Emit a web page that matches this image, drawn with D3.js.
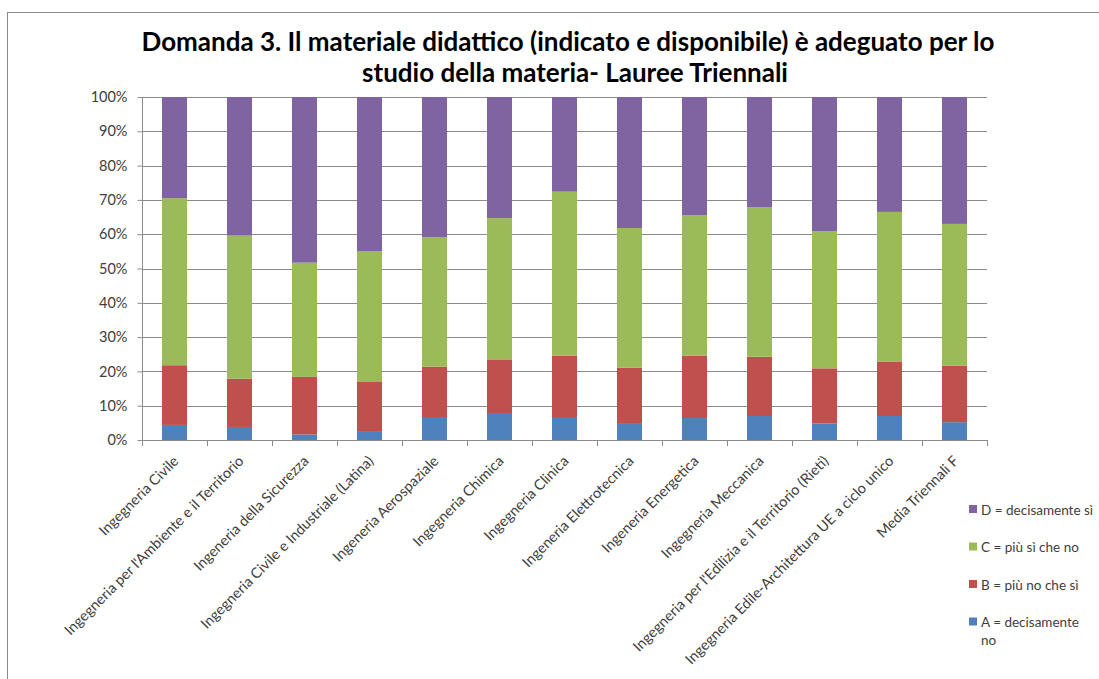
<!DOCTYPE html>
<html>
<head>
  <meta charset="utf-8">
  <script src="https://d3js.org/d3.v7.min.js"></script>
  <style>
    body { margin: 0; background: #fff; }
    svg { font-family: Lato, "Open Sans", sans-serif; }
  </style>
</head>
<body>
<script>
// corsi di laurea
var categories = [
  "Ingegneria Civile",
  "Ingegneria per l'Ambiente e il Territorio",
  "Ingeneria della Sicurezza",
  "Ingegneria Civile e Industriale  (Latina)",
  "Ingeneria Aerospaziale",
  "Ingegneria Chimica",
  "Ingegneria Clinica",
  "Ingeneria Elettrotecnica",
  "Ingeneria Energetica",
  "Ingegneria Meccanica",
  "Ingegneria per l'Edilizia e il Territorio (Rieti)",
  "Ingegneria Edile-Architettura UE a ciclo unico",
  "Media Triennali F"
];
// percentuali per risposta
var valA = [4.4, 3.8, 1.6, 2.6, 6.7, 7.6, 6.7, 4.7, 6.4, 7.0, 4.8, 7.0, 5.2];
var valB = [17.4, 14.1, 16.8, 14.5, 14.7, 15.9, 17.9, 16.4, 18.2, 17.3, 16.1, 15.9, 16.5];
var valC = [48.7, 41.7, 33.3, 38.0, 37.7, 41.2, 47.8, 40.7, 40.9, 43.6, 40.0, 43.6, 41.3];
var valD = [29.5, 40.4, 48.3, 44.9, 40.9, 35.3, 27.6, 38.2, 34.5, 32.1, 39.1, 33.5, 37.0];
var seriesNames = ["A = decisamente no", "B = più no che sì", "C = più sì che no", "D = decisamente sì"];
var seriesColors = ["#4F81BD", "#C0504D", "#9BBB59", "#8064A2"];
var yTicks = [0, 10, 20, 30, 40, 50, 60, 70, 80, 90, 100];

var W = 1099, H = 679;
var svg = d3.select("body").append("svg").attr("width", W).attr("height", H);

// cornice
svg.append("rect").attr("x", 7.5).attr("y", 12.5).attr("width", W + 10).attr("height", H + 10)
  .attr("fill", "none").attr("stroke", "#8a8a8a").attr("stroke-width", 1);

// titolo
var title = svg.append("text").attr("text-anchor", "middle")
  .style("font-weight", "bold").style("font-size", "26px").attr("fill", "#000");
title.append("tspan").attr("x", 568).attr("y", 51)
  .text("Domanda 3. Il materiale didattico (indicato e disponibile) è adeguato per lo");
title.append("tspan").attr("x", 575).attr("y", 82)
  .text("studio della materia- Lauree Triennali");

var x0 = 142, x1 = 987, y0 = 440, y1 = 97;
var x = d3.scaleBand().domain(categories).range([x0, x1]).paddingInner(0.615).paddingOuter(0.3075);
var y = d3.scaleLinear().domain([0, 100]).range([y0, y1]);

// griglia
svg.append("g").selectAll("line").data(yTicks.slice(1)).join("line")
  .attr("x1", x0).attr("x2", x1)
  .attr("y1", function(d) { return Math.round(y(d)) + 0.5; })
  .attr("y2", function(d) { return Math.round(y(d)) + 0.5; })
  .attr("stroke", "#8c8c8c").attr("stroke-width", 1);

// barre
var rows = categories.map(function(c, i) {
  return { cat: c, a: valA[i], b: valB[i], c: valC[i], d: valD[i] };
});
var stack = d3.stack().keys(["a", "b", "c", "d"]);
var layers = stack(rows);
svg.append("g").selectAll("g").data(layers).join("g")
  .attr("fill", function(d, i) { return seriesColors[i]; })
  .selectAll("rect").data(function(d) { return d; }).join("rect")
  .attr("x", function(d) { return x(d.data.cat); })
  .attr("width", x.bandwidth())
  .attr("y", function(d) { return y(d[1]); })
  .attr("height", function(d) { return y(d[0]) - y(d[1]); });

// asse y
var yAxis = svg.append("g").attr("transform", "translate(" + (x0 + 0.5) + ",0)")
  .call(d3.axisLeft(y).tickValues(yTicks).tickSize(5).tickPadding(10)
    .tickFormat(function(d) { return d + "%"; }));
yAxis.select(".domain").attr("stroke", "#8c8c8c").attr("d", "M0," + y1 + "V" + y0);
yAxis.selectAll(".tick line").attr("stroke", "#8c8c8c");
yAxis.selectAll(".tick text").attr("fill", "#404040").style("font-size", "14.5px")
  .style("font-family", "Lato, sans-serif");

// asse x
var bounds = d3.range(categories.length + 1).map(function(i) { return x0 + i * (x1 - x0) / categories.length; });
var xg = svg.append("g");
xg.append("line").attr("x1", x0).attr("x2", x1).attr("y1", y0 + 0.5).attr("y2", y0 + 0.5).attr("stroke", "#8c8c8c");
xg.selectAll("line.t").data(bounds).join("line").attr("class", "t")
  .attr("x1", function(d) { return Math.round(d) + 0.5; })
  .attr("x2", function(d) { return Math.round(d) + 0.5; })
  .attr("y1", y0).attr("y2", y0 + 6).attr("stroke", "#8c8c8c");
xg.selectAll("text").data(categories).join("text")
  .attr("transform", function(d) {
    return "translate(" + (x(d) + x.bandwidth() / 2 + 5) + "," + (y0 + 22) + ") rotate(-45)";
  })
  .attr("text-anchor", "end").attr("fill", "#404040").style("font-size", "14.5px")
  .text(function(d) { return d; });

// legenda
var legendItems = [3, 2, 1, 0];
var lg = svg.append("g").selectAll("g").data(legendItems).join("g")
  .attr("transform", function(d, i) { return "translate(969," + (510 + i * 37.5) + ")"; });
lg.append("rect").attr("x", 0).attr("y", -5).attr("width", 8).attr("height", 8)
  .attr("fill", function(d) { return seriesColors[d]; });
lg.append("text").attr("x", 12).attr("y", 4.5).attr("fill", "#404040").style("font-size", "13.5px")
  .each(function(d) {
    var t = d3.select(this);
    if (d === 0) {
      t.append("tspan").attr("x", 12).text("A = decisamente");
      t.append("tspan").attr("x", 12).attr("dy", 18).text("no");
    } else {
      t.text(seriesNames[d]);
    }
  });
</script>
</body>
</html>
